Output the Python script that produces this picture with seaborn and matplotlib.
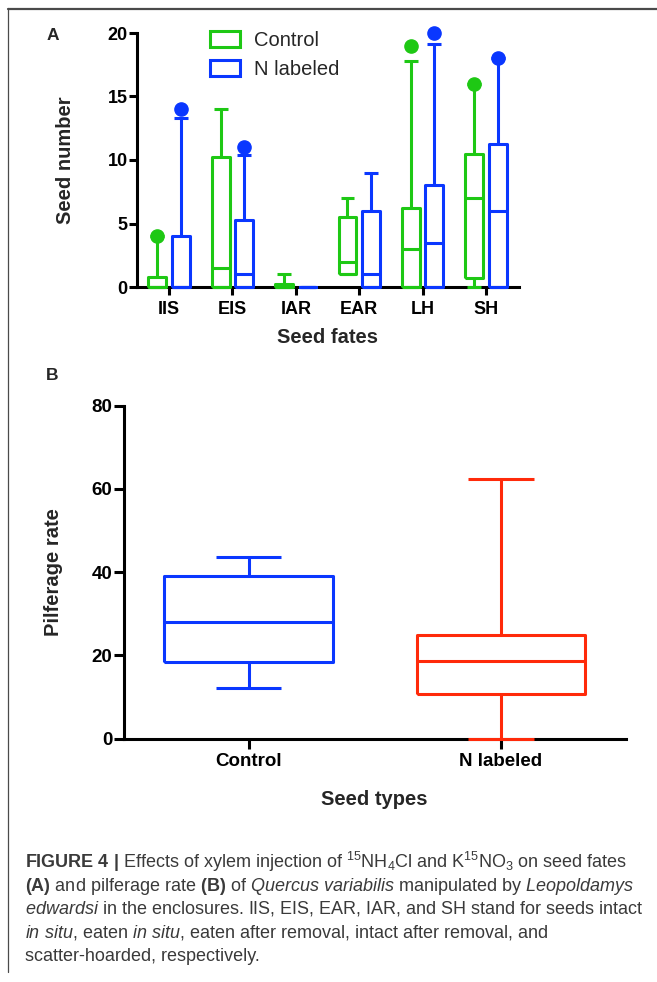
import matplotlib
matplotlib.use("Agg")
import matplotlib.pyplot as plt
from matplotlib.lines import Line2D
from matplotlib.patches import Patch
import numpy as np
import seaborn as sns

# ---------------- data ----------------
fates = ["IIS", "EIS", "IAR", "EAR", "LH", "SH"]
groups = ["Control", "N labeled"]

ctrl_whislo = [0, 0, 0, 1, 0, 0]
ctrl_q1 = [0, 0, 0, 1, 0, 0.7]
ctrl_med = [0, 1.5, 0, 2, 3, 7]
ctrl_q3 = [0.8, 10.2, 0.25, 5.5, 6.25, 10.5]
ctrl_whishi = [4, 14, 1, 7, 17.8, 16]
ctrl_fliers = [[4], [], [], [], [19], [16]]

nlab_whislo = [0, 0, 0, 0, 0, 0]
nlab_q1 = [0, 0, 0, 0, 0, 0]
nlab_med = [0, 1, 0, 1, 3.5, 6]
nlab_q3 = [4, 5.25, 0, 6, 8, 11.25]
nlab_whishi = [13.3, 10.4, 0, 9, 19.1, 18]
nlab_fliers = [[14], [11], [], [], [20], [18]]

seed_types = ["Control", "N labeled"]
pilf_whislo = [12.3, 0]
pilf_q1 = [18.5, 10.8]
pilf_med = [28, 18.7]
pilf_q3 = [39, 25]
pilf_whishi = [43.7, 62.5]

GREEN = "#1EC814"
BLUE = "#0A37FF"
RED = "#FF2A0A"

# ---------------- style ----------------
sns.set_theme(style="ticks")
plt.rcParams["font.family"] = ["Liberation Sans", "DejaVu Sans"]
plt.rcParams["mathtext.fontset"] = "custom"
plt.rcParams["mathtext.rm"] = "Liberation Sans"
plt.rcParams["mathtext.it"] = "Liberation Sans:italic"
plt.rcParams["mathtext.bf"] = "Liberation Sans:bold"
plt.rcParams["axes.edgecolor"] = "black"
plt.rcParams["xtick.color"] = "black"
plt.rcParams["ytick.color"] = "black"

LW = 2.2
W, H = 657, 982
fig = plt.figure(figsize=(W / 100, H / 100), dpi=100)


def ax_rect(l, t, r, b):
    return [l / W, 1 - b / H, (r - l) / W, (b - t) / H]


def make_stats(whislo, q1, med, q3, whishi, fliers=None):
    out = []
    for i in range(len(med)):
        out.append(dict(whislo=whislo[i], q1=q1[i], med=med[i], q3=q3[i],
                        whishi=whishi[i], fliers=(fliers[i] if fliers else [])))
    return out


def draw(ax, stats, pos, width, capw, color, ms=9.5):
    art = ax.bxp(stats, positions=pos, widths=width, capwidths=capw,
                 showfliers=True, patch_artist=False, manage_ticks=False,
                 boxprops=dict(color=color, linewidth=LW),
                 whiskerprops=dict(color=color, linewidth=LW),
                 capprops=dict(color=color, linewidth=LW),
                 medianprops=dict(color=color, linewidth=LW),
                 flierprops=dict(marker="o", markerfacecolor=color,
                                 markeredgecolor=color, markersize=ms),
                 zorder=3)
    for k, v in art.items():
        for a in v:
            a.set_clip_on(False)
            a.set_solid_capstyle("butt")
    for f in art["fliers"]:
        f.set_zorder(4)


def style_axes(ax, ticklen):
    sns.despine(ax=ax)
    for s in ["left", "bottom"]:
        ax.spines[s].set_linewidth(LW)
        ax.spines[s].set_zorder(1)
    ax.tick_params(axis="both", width=LW, length=ticklen, direction="out")


# ---------------- panel A ----------------
axA = fig.add_axes(ax_rect(137, 33, 519, 287))
x = np.arange(len(fates))
off = 0.185
draw(axA, make_stats(ctrl_whislo, ctrl_q1, ctrl_med, ctrl_q3, ctrl_whishi, ctrl_fliers),
     x - off, 0.28, 0.22, GREEN)
draw(axA, make_stats(nlab_whislo, nlab_q1, nlab_med, nlab_q3, nlab_whishi, nlab_fliers),
     x + off, 0.28, 0.22, BLUE)
axA.set_xlim(-0.505, 5.52)
axA.set_ylim(0, 20)
axA.set_yticks([0, 5, 10, 15, 20])
axA.set_xticks(x)
axA.set_xticklabels(fates)
style_axes(axA, 6)
axA.tick_params(axis="y", pad=0.8)
axA.tick_params(axis="x", pad=4)
for lab in axA.get_xticklabels() + axA.get_yticklabels():
    lab.set_fontsize(13)
    lab.set_fontweight("bold")
axA.set_ylabel("Seed number", fontsize=14.5, fontweight="bold")
axA.set_xlabel("Seed fates", fontsize=14.5, fontweight="bold")
axA.yaxis.set_label_coords(-0.186, 0.5)
axA.yaxis.label.set_verticalalignment("center")
axA.xaxis.set_label_coords(0.5, -0.197)
axA.xaxis.label.set_verticalalignment("center")

handles = [Patch(facecolor="none", edgecolor=GREEN, linewidth=LW, label=groups[0]),
           Patch(facecolor="none", edgecolor=BLUE, linewidth=LW, label=groups[1])]
axA.legend(handles=handles, loc="upper left", bbox_to_anchor=(210 / W, 1 - 31 / H),
           bbox_transform=fig.transFigure, frameon=False, fontsize=14.5,
           handlelength=1.5, handleheight=0.8, handletextpad=0.7,
           labelspacing=0.5, borderpad=0, borderaxespad=0)

# ---------------- panel B ----------------
axB = fig.add_axes(ax_rect(123.5, 405.7, 625.5, 738.7))
xb = np.arange(len(seed_types))
colsB = [BLUE, RED]
statsB = make_stats(pilf_whislo, pilf_q1, pilf_med, pilf_q3, pilf_whishi)
for i in range(len(seed_types)):
    draw(axB, [statsB[i]], [xb[i]], 0.667, 0.26, colsB[i])
axB.set_xlim(-0.496, 1.494)
axB.set_ylim(0, 80)
axB.set_yticks([0, 20, 40, 60, 80])
axB.set_xticks(xb)
axB.set_xticklabels(seed_types)
style_axes(axB, 7.5)
axB.tick_params(axis="y", pad=0.5)
axB.tick_params(axis="x", pad=3)
for lab in axB.get_xticklabels() + axB.get_yticklabels():
    lab.set_fontsize(13.5)
    lab.set_fontweight("bold")
axB.set_ylabel("Pilferage rate", fontsize=14.5, fontweight="bold")
axB.set_xlabel("Seed types", fontsize=14.5, fontweight="bold")
axB.yaxis.set_label_coords(-0.1404, 0.5)
axB.yaxis.label.set_verticalalignment("center")
axB.xaxis.set_label_coords(0.5, -0.184)
axB.xaxis.label.set_verticalalignment("center")

# panel letters
fig.text(53 / W, 1 - 36 / H, "A", fontsize=12.5, fontweight="bold", ha="center", va="center")
fig.text(52 / W, 1 - 375 / H, "B", fontsize=12.5, fontweight="bold", ha="center", va="center")

# ---------------- caption ----------------
cap_lines = [
    r"$\mathbf{FIGURE\ 4\ |}$ Effects of xylem injection of $^{15}$NH$_4$Cl and K$^{15}$NO$_3$ on seed fates",
    r"$\mathbf{(A)}$ and pilferage rate $\mathbf{(B)}$ of $\mathit{Quercus\ variabilis}$ manipulated by $\mathit{Leopoldamys}$",
    r"$\mathit{edwardsi}$ in the enclosures. IIS, EIS, EAR, IAR, and SH stand for seeds intact",
    r"$\mathit{in\ situ}$, eaten $\mathit{in\ situ}$, eaten after removal, intact after removal, and",
    r"scatter-hoarded, respectively.",
]
baselines = [868, 891, 914, 938, 961]
for t, yb in zip(cap_lines, baselines):
    fig.text(25 / W, 1 - yb / H, t, fontsize=13, color="#3a3a3a", ha="left", va="baseline")

# ---------------- border ----------------
fig.add_artist(Line2D([8 / W, 1], [1 - 8.5 / H, 1 - 8.5 / H], transform=fig.transFigure,
                      color="#4a4a4a", linewidth=1.6))
fig.add_artist(Line2D([8 / W, 8 / W], [1 - 8 / H, 1 - 972 / H], transform=fig.transFigure,
                      color="#4a4a4a", linewidth=0.9))

fig.savefig("out.png", dpi=100)
